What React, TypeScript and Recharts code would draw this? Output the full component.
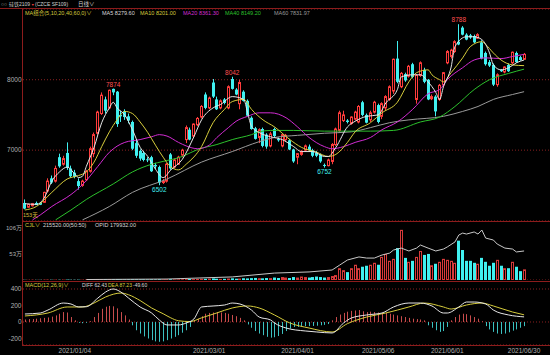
import React from "react";
import {
  ComposedChart,
  Bar,
  Line,
  XAxis,
  YAxis,
  CartesianGrid,
  ReferenceDot,
} from "recharts";

const RED = "#ff3c3c";
const CYAN = "#40f0f0";
const FRAME = "#8c1c1c";
const GRID = "#8a2020";
const TXT = "#b0b0b0";
const HFONT = '"Liberation Sans", "Noto Sans CJK SC", sans-serif';

// daily bars, 2020/12/15 .. 2021/06/30
const opens = [
  6250, 6190, 6210, 6250, 6250, 6260, 6420, 6600, 6560, 6900, 6800, 6960, 6740, 6680, 6560, 6500,
  6580, 6700, 6950, 7240, 7520, 7720, 7600, 7870, 7830, 7500, 7550, 7480, 7400, 7100, 6990, 6960,
  6870, 6900, 6790, 6760, 6540, 6560, 6940, 6760, 6800, 6930, 7150, 7290, 7200, 7360, 7470, 7790,
  7600, 7960, 7720, 7600, 7720, 7600, 8010, 7860, 7660, 7830, 7700, 7460, 7310, 7180, 7300, 7220,
  7060, 7300, 7160, 7060, 7150, 7140, 7010, 6900, 6940, 7000, 7050, 7000, 6960, 6930, 6790, 6780,
  6840, 7080, 7280, 7420, 7420, 7380, 7440, 7400, 7680, 7500, 7430, 7540, 7640, 7480, 7600, 7720,
  7840, 8300, 7900, 8080, 8050, 8220, 7720, 8060, 8140, 8000, 7730, 7760, 7720, 7930, 8240, 8330,
  8400, 8540, 8740, 8640, 8630, 8620, 8590, 8530, 8380, 8250, 8210, 7930, 8140, 8110, 8210, 8240,
  8380, 8320, 8290,
];
const highs = [
  6300, 6240, 6250, 6270, 6260, 6410, 6600, 6640, 6780, 6950, 6920, 7110, 6780, 6720, 6600, 6580,
  6720, 7050, 7250, 7560, 7820, 7760, 7860, 7874, 7840, 7560, 7580, 7520, 7420, 7150, 7010, 6990,
  6900, 6920, 6820, 6780, 6590, 6820, 6960, 6880, 6920, 7020, 7350, 7320, 7380, 7470, 7640, 7820,
  7760, 8010, 7760, 7720, 7740, 7920, 8042, 7880, 8000, 7850, 7720, 7480, 7330, 7310, 7320, 7240,
  7260, 7320, 7180, 7240, 7230, 7160, 7020, 6960, 7000, 7080, 7080, 7020, 6990, 6950, 6810, 6880,
  7100, 7320, 7560, 7560, 7440, 7480, 7560, 7640, 7700, 7520, 7560, 7700, 7660, 7680, 7780, 7920,
  8300, 8550, 8110, 8100, 8210, 8240, 8080, 8260, 8170, 8010, 7790, 7780, 7940, 8110, 8420, 8440,
  8560, 8788, 8760, 8660, 8650, 8640, 8660, 8560, 8400, 8280, 8230, 8090, 8150, 8190, 8230, 8400,
  8400, 8340, 8380,
];
const lows = [
  6160, 6180, 6200, 6220, 6220, 6250, 6400, 6520, 6540, 6750, 6780, 6720, 6610, 6600, 6440, 6480,
  6560, 6680, 6900, 7220, 7500, 7520, 7580, 7780, 7330, 7400, 7430, 7380, 7000, 6890, 6850, 6840,
  6830, 6690, 6730, 6502, 6520, 6540, 6720, 6740, 6790, 6900, 7100, 7140, 7180, 7340, 7450, 7580,
  7580, 7740, 7570, 7580, 7650, 7580, 7860, 7780, 7580, 7690, 7480, 7290, 7150, 7100, 7040, 7020,
  7040, 7180, 7120, 7040, 7120, 7000, 6820, 6800, 6920, 6980, 6980, 6900, 6900, 6820, 6752, 6770,
  6800, 7060, 7260, 7400, 7380, 7360, 7420, 7380, 7480, 7380, 7400, 7520, 7380, 7440, 7560, 7700,
  7800, 7950, 7880, 7970, 8030, 8020, 7660, 8040, 7950, 7710, 7710, 7480, 7700, 7900, 8220, 8300,
  8380, 8490, 8630, 8560, 8580, 8520, 8580, 8290, 8200, 8180, 7910, 7900, 8110, 8090, 8110, 8220,
  8240, 8270, 8280,
];
const closes = [
  6170, 6230, 6240, 6220, 6225, 6400, 6560, 6540, 6740, 6770, 6880, 6750, 6630, 6620, 6490, 6560,
  6700, 7020, 7220, 7540, 7780, 7560, 7850, 7820, 7370, 7480, 7470, 7420, 7020, 6920, 6880, 6860,
  6860, 6700, 6770, 6540, 6560, 6800, 6740, 6860, 6900, 7000, 7320, 7150, 7370, 7450, 7620, 7600,
  7740, 7760, 7580, 7700, 7670, 7900, 7870, 7790, 7960, 7700, 7490, 7300, 7160, 7290, 7060, 7050,
  7230, 7200, 7140, 7220, 7210, 7010, 6840, 6950, 6980, 7060, 7000, 6920, 6920, 6840, 6780, 6860,
  7080, 7300, 7530, 7500, 7400, 7470, 7540, 7620, 7500, 7390, 7530, 7680, 7400, 7660, 7760, 7900,
  8290, 7970, 8090, 7990, 8190, 8040, 8060, 8240, 7970, 7720, 7760, 7550, 7920, 8100, 8400, 8420,
  8540, 8500, 8640, 8570, 8600, 8530, 8640, 8300, 8220, 8200, 7930, 8070, 8120, 8180, 8120, 8390,
  8250, 8280, 8360,
];

// volume, 万手
const volumes = [
  0.4, 0.3, 0.4, 0.3, 0.4, 0.5, 0.6, 0.5, 0.6, 0.5, 0.6, 0.8, 0.6, 0.5, 0.6, 0.5,
  0.8, 1, 1.2, 1.4, 1.5, 1.2, 1.4, 1.3, 1.6, 1.2, 1, 1.1, 1.4, 1.2, 1, 1.1, 0.9, 1.2, 1, 1.3, 1, 1.2,
  1.4, 1, 1.1, 1.2, 1.6,
  2, 1.8, 2.2, 2.6, 2.4, 2.8, 3.2, 2.6, 2.2, 2.4, 3, 3.4, 2.6, 3, 3.6, 3.2, 3.8, 4.2, 3.6, 3.4, 4, 3.8,
  5, 4, 6, 5, 4, 6, 5, 7, 6, 5, 6, 7, 6, 5, 6, 8,
  10, 24, 20, 16, 24, 31, 24, 27, 29, 31, 35, 31, 47, 53, 39, 43, 65, 102,
  45, 37, 39, 47, 59, 51, 53, 30, 33, 37, 43, 41, 39, 35,
  80,
  61, 39, 39, 35, 33, 45, 37, 29, 35, 41, 29, 24, 24, 37, 27, 18, 21.6,
];

// open interest, 万手 (sparse readings)
const oiPts = [
  [16, 0.3], [37, 0.6], [54, 1.9], [65, 4.3], [74, 5], [80, 6.2], [82, 9.3], [84, 12.4], [87, 14.3],
  [89, 13.6], [91, 13.6], [93, 15.5], [95, 16.7], [96, 18.6], [98, 19.8], [100, 18], [102, 19.8],
  [103, 21.7], [105, 19.8], [107, 18], [109, 19.2], [110, 20.5], [112, 23.6], [113, 27.9], [114, 29.1],
  [115, 28.5], [117, 29.8], [118, 28.5], [119, 31], [120, 26], [122, 24.8], [123, 22.3], [125, 19.8],
  [127, 19.2], [128, 17.4], [130, 18],
];

const macdHist = [
  30, 35, 35, 40, 45, 50, 55, 65, 80, 100, 120, 115, 60, 20,
  -10, -15, -10, 10, 60, 110, 160, 185, 195, 190, 165, 120, 80, 30,
  -40, -100, -140, -175, -200, -220, -235, -240, -235, -220, -200, -180, -160, -130, -100, -60,
  20, 40, 70, 100, 110, 115, 120, 115, 110, 100, 85, 70, 50, 20,
  -30, -70, -110, -140, -160, -180, -190, -185, -170, -145, -110, -80, -60, -60, -55, -50, -50, -48,
  -45, -40, -35, -25,
  20, 60, 90, 110, 125, 135, 140, 145, 130, 120, 125, 120, 115, 110, 110, 100, 90, 80, 70, 60, 50, 40,
  35, 30, 20,
  -40, -70, -100, -120, -110, -60,
  20, 60, 90, 100, 95, 80, 60, 40, 10,
  -50, -90, -120, -140, -145, -140, -125, -105, -90, -70, -50,
];

const difPts = [
  [0, 97], [4, 109], [6, 145], [10, 230], [12, 218], [14, 182], [16, 185], [19, 290], [21, 363],
  [23, 400], [25, 363], [27, 290], [30, 182], [33, 109], [35, 24], [37, -36], [40, -36], [42, -12],
  [44, 36], [46, 182], [49, 194], [52, 206], [54, 230], [56, 218], [59, 145], [61, 60], [64, 24],
  [65, -12], [68, -73], [73, -109], [76, -121], [80, -133], [83, -12], [85, 48], [89, 85], [93, 109],
  [96, 182], [100, 230], [103, 230], [106, 194], [109, 109], [110, 109], [113, 182], [115, 242],
  [117, 242], [120, 218], [122, 145], [126, 85], [130, 62],
];
const deaPts = [
  [0, 73], [6, 109], [11, 182], [15, 182], [18, 230], [21, 303], [25, 351], [27, 330], [30, 260],
  [33, 170], [36, 100], [38, 50], [40, 15], [43, 5], [46, 50], [50, 110], [54, 170], [58, 194],
  [61, 170], [65, 85], [69, -12], [74, -73], [80, -121], [84, -20], [89, 60], [94, 109], [100, 182],
  [104, 230], [109, 182], [111, 157], [115, 206], [119, 230], [122, 194], [127, 121], [130, 87],
];

// moving averages (sparse)
const ma5Pts = [
  [0, 6240], [3, 6230], [5, 6320], [7, 6560], [9, 6690], [11, 6760], [13, 6660], [14, 6610],
  [15, 6630], [16, 6770], [18, 7040], [20, 7390], [22, 7600], [23, 7680], [24, 7600], [26, 7500],
  [28, 7290], [30, 7040], [32, 6910], [34, 6730], [36, 6610], [38, 6720], [41, 6870], [44, 7190],
  [46, 7430], [49, 7600], [51, 7650], [54, 7760], [57, 7720], [58, 7530], [59, 7340], [61, 7250],
  [64, 7190], [67, 7150], [70, 7050], [72, 6980], [75, 6980], [78, 6910], [79, 6910], [81, 7040],
  [84, 7330], [86, 7410], [89, 7480], [92, 7500], [94, 7670], [97, 7860], [98, 8040], [101, 8070],
  [103, 8070], [105, 7970], [107, 7820], [108, 7720], [109, 7900], [111, 8180], [112, 8470],
  [115, 8610], [117, 8610], [119, 8570], [121, 8380], [122, 8210], [124, 8140], [126, 8170],
  [128, 8240], [130, 8280],
];
const ma10Pts = [
  [0, 6150], [3, 6200], [7, 6400], [11, 6590], [14, 6640], [16, 6690], [18, 6830], [20, 7050],
  [22, 7260], [24, 7430], [26, 7550], [28, 7520], [30, 7400], [32, 7250], [34, 7070], [36, 6900],
  [38, 6760], [40, 6720], [42, 6800], [46, 7050], [49, 7390], [52, 7580], [54, 7690], [57, 7720],
  [59, 7580], [62, 7430], [65, 7330], [69, 7150], [72, 7040], [76, 6970], [79, 6910], [81, 6940],
  [84, 7110], [86, 7260], [90, 7390], [93, 7530], [97, 7680], [100, 7970], [102, 8100], [105, 8140],
  [106, 8070], [108, 8000], [109, 7970], [111, 8100], [114, 8310], [116, 8470], [119, 8540],
  [120, 8500], [122, 8380], [124, 8280], [127, 8210], [130, 8200],
];
const ma20Pts = [
  [2, 6010], [4, 6080], [7, 6200], [12, 6370], [15, 6510], [19, 6770], [22, 6970], [26, 7110],
  [30, 7150], [33, 7190], [35, 7220], [37, 7200], [40, 7110], [42, 7060], [45, 7020], [48, 7070],
  [50, 7180], [53, 7320], [55, 7410], [58, 7480], [61, 7530], [64, 7530], [68, 7460], [71, 7330],
  [74, 7180], [78, 7050], [80, 7020], [83, 7050], [86, 7110], [90, 7180], [93, 7290], [97, 7400],
  [101, 7580], [105, 7800], [108, 7860], [110, 8000], [114, 8170], [117, 8280], [120, 8310],
  [124, 8300], [127, 8330], [130, 8360],
];
const ma40Pts = [
  [8, 6010], [12, 6150], [16, 6300], [23, 6520], [28, 6690], [33, 6800], [36, 6840], [41, 6910],
  [45, 7010], [50, 7080], [54, 7150], [59, 7220], [61, 7260], [64, 7280], [70, 7280], [78, 7270],
  [84, 7270], [90, 7270], [96, 7280], [103, 7400], [108, 7470], [112, 7620], [117, 7860],
  [121, 8000], [126, 8090], [130, 8150],
];
const ma60Pts = [
  [15, 6010], [22, 6200], [28, 6400], [37, 6590], [46, 6830], [54, 6980], [61, 7120], [65, 7180],
  [71, 7210], [78, 7240], [85, 7260], [90, 7320], [95, 7390], [100, 7430], [109, 7480], [114, 7550],
  [118, 7620], [122, 7720], [127, 7790], [130, 7830],
];

const dateLabels: Record<number, string> = {
  13: "2021/01/04",
  48: "2021/03/01",
  71: "2021/04/01",
  92: "2021/05/06",
  110: "2021/06/01",
  130: "2021/06/30",
};

const extremes = [
  { i: 23, p: 7874, hi: true },
  { i: 35, p: 6502, hi: false },
  { i: 54, p: 8042, hi: true },
  { i: 78, p: 6752, hi: false },
  { i: 113, p: 8788, hi: true },
];

const toMap = (pts: number[][]) => {
  const m: Record<number, number> = {};
  pts.forEach(([i, v]) => (m[i] = v));
  return m;
};
const maps = {
  ma5: toMap(ma5Pts),
  ma10: toMap(ma10Pts),
  ma20: toMap(ma20Pts),
  ma40: toMap(ma40Pts),
  ma60: toMap(ma60Pts),
  oi: toMap(oiPts),
  dif: toMap(difPts),
  dea: toMap(deaPts),
};

const rows = closes.map((close, i) => ({
  i,
  open: opens[i],
  high: highs[i],
  low: lows[i],
  close,
  range: [lows[i], highs[i]],
  up: close >= opens[i],
  vol: volumes[i],
  hist: macdHist[i],
  ma5: maps.ma5[i] ?? null,
  ma10: maps.ma10[i] ?? null,
  ma20: maps.ma20[i] ?? null,
  ma40: maps.ma40[i] ?? null,
  ma60: maps.ma60[i] ?? null,
  oi: maps.oi[i] ?? null,
  dif: maps.dif[i] ?? null,
  dea: maps.dea[i] ?? null,
}));

// candle drawn inside the low-high range bar
const Candle = (props: any) => {
  const { x, y, width, height, payload } = props;
  if (x == null || !payload) return null;
  const top = Math.min(y, y + height);
  const h = Math.abs(height);
  const span = payload.high - payload.low || 1;
  const py = (p: number) => top + ((payload.high - p) / span) * h;
  const left = Math.round(x + width / 2 - 1.5);
  const color = payload.up ? RED : CYAN;
  const bTop = py(Math.max(payload.open, payload.close));
  const bBot = py(Math.min(payload.open, payload.close));
  return (
    <g>
      <line x1={left + 1.5} x2={left + 1.5} y1={top} y2={top + h} stroke={color} strokeWidth={1} />
      {payload.up ? (
        <rect x={left + 0.5} y={bTop} width={2} height={Math.max(bBot - bTop, 0.5)} fill="#000" stroke={color} strokeWidth={1} />
      ) : (
        <rect x={left} y={bTop} width={3} height={Math.max(bBot - bTop, 1)} fill={color} />
      )}
    </g>
  );
};

const VolBar = (props: any) => {
  const { x, y, width, height, payload } = props;
  if (x == null || !payload) return null;
  const top = Math.min(y, y + height);
  const h = Math.abs(height);
  const left = Math.round(x + width / 2 - 1.5);
  return payload.up ? (
    <rect x={left + 0.5} y={top + 0.5} width={2} height={Math.max(h - 0.5, 0.5)} fill="none" stroke="#d83a3a" strokeWidth={1} />
  ) : (
    <rect x={left} y={top} width={3} height={Math.max(h, 0.5)} fill={CYAN} />
  );
};

const HistBar = (props: any) => {
  const { x, y, width, height, payload } = props;
  if (x == null || !payload) return null;
  const cx = Math.round(x + width / 2) + 0.5;
  const top = Math.min(y, y + height);
  const bot = Math.max(y, y + height);
  return <line x1={cx} x2={cx} y1={top} y2={bot} stroke={payload.hist >= 0 ? "#c84c4c" : "#3cc0c0"} strokeWidth={1} />;
};

const DateTick = (props: any) => {
  const { x, y, payload } = props;
  const label = dateLabels[payload.value];
  if (!label) return null;
  return (
    <text x={x} y={y + 5} textAnchor="middle" dominantBaseline="central" fill={TXT} fontSize={6.5} fontFamily={HFONT}>
      {label}
    </text>
  );
};

const Txt = ({ x, y, color, size = 5.5, children }: any) => (
  <div
    style={{
      position: "absolute",
      left: x,
      top: y,
      color,
      fontSize: size,
      lineHeight: "7px",
      whiteSpace: "nowrap",
      fontFamily: HFONT,
    }}
  >
    {children}
  </div>
);

const HLine = ({ x, y, w }: any) => (
  <div style={{ position: "absolute", left: x, top: y, width: w, height: 1, background: FRAME }} />
);

const yTick = { fill: TXT, fontSize: 6.5, fontFamily: HFONT };

export default function App() {
  return (
    <div style={{ position: "absolute", left: 0, top: 0, width: 550, height: 355, background: "#000", overflow: "hidden" }}>
      {/* price panel */}
      <div style={{ position: "absolute", left: 0, top: 0 }}>
        <ComposedChart width={550} height={221} data={rows} margin={{ top: 9, right: 0, bottom: 0, left: 0 }}>
          <CartesianGrid vertical={false} stroke={GRID} strokeDasharray="1 2" />
          <XAxis dataKey="i" type="category" hide padding={{ left: 0, right: 24 }} />
          <YAxis
            domain={[5994, 9004]}
            allowDataOverflow
            ticks={[7000, 8000]}
            width={23}
            axisLine={false}
            tickLine={false}
            tickSize={0}
            tickMargin={1.5}
            tick={yTick}
          />
          <Bar dataKey="range" shape={<Candle />} isAnimationActive={false} />
          <Line dataKey="ma60" stroke="#9a9a9a" dot={false} connectNulls type="monotone" strokeWidth={1} isAnimationActive={false} />
          <Line dataKey="ma40" stroke="#2cc02c" dot={false} connectNulls type="monotone" strokeWidth={1} isAnimationActive={false} />
          <Line dataKey="ma20" stroke="#d22cd2" dot={false} connectNulls type="monotone" strokeWidth={1} isAnimationActive={false} />
          <Line dataKey="ma10" stroke="#d6cc3c" dot={false} connectNulls type="monotone" strokeWidth={1} isAnimationActive={false} />
          <Line dataKey="ma5" stroke="#e6e6e6" dot={false} connectNulls type="monotone" strokeWidth={1} isAnimationActive={false} />
          {extremes.map((e) => (
            <ReferenceDot
              key={e.i}
              x={e.i}
              y={e.p}
              r={0}
              fill="none"
              stroke="none"
              label={{
                value: String(e.p),
                position: e.hi ? "top" : "bottom",
                offset: 2,
                fill: e.hi ? "#ff5050" : CYAN,
                fontSize: 6.5,
                fontFamily: HFONT,
              }}
            />
          ))}
        </ComposedChart>
      </div>

      {/* volume panel */}
      <div style={{ position: "absolute", left: 0, top: 221 }}>
        <ComposedChart width={550} height={59} data={rows} margin={{ top: 0, right: 0, bottom: 0, left: 0 }}>
          <CartesianGrid vertical={false} stroke={GRID} strokeDasharray="1 2" />
          <XAxis dataKey="i" type="category" hide padding={{ left: 0, right: 24 }} />
          <YAxis
            yAxisId="v"
            domain={[0, 120]}
            allowDataOverflow
            ticks={[53, 106]}
            tickFormatter={(v: number) => `${v}万`}
            width={23}
            axisLine={false}
            tickLine={false}
            tickSize={0}
            tickMargin={1}
            tick={{ ...yTick, fontSize: 6 }}
          />
          <YAxis yAxisId="oi" orientation="right" hide domain={[0, 36.6]} allowDataOverflow />
          <Bar yAxisId="v" dataKey="vol" shape={<VolBar />} isAnimationActive={false} />
          <Line yAxisId="oi" dataKey="oi" stroke="#c8c8c8" dot={false} connectNulls strokeWidth={1} isAnimationActive={false} />
        </ComposedChart>
      </div>

      {/* MACD panel */}
      <div style={{ position: "absolute", left: 0, top: 281 }}>
        <ComposedChart width={550} height={74} data={rows} margin={{ top: 0, right: 0, bottom: 0, left: 0 }}>
          <CartesianGrid vertical={false} stroke={GRID} strokeDasharray="1 2" />
          <XAxis
            dataKey="i"
            type="category"
            padding={{ left: 0, right: 24 }}
            interval={0}
            height={10}
            axisLine={false}
            tickLine={false}
            tickSize={0}
            tickMargin={0}
            tick={<DateTick />}
          />
          <YAxis
            domain={[-279, 497]}
            allowDataOverflow
            ticks={[-200, 0, 200, 400]}
            width={23}
            axisLine={false}
            tickLine={false}
            tickSize={0}
            tickMargin={1.5}
            tick={yTick}
          />
          <Bar dataKey="hist" shape={<HistBar />} isAnimationActive={false} />
          <Line dataKey="dea" stroke="#d6cc3c" dot={false} connectNulls type="monotone" strokeWidth={1} isAnimationActive={false} />
          <Line dataKey="dif" stroke="#e6e6e6" dot={false} connectNulls type="monotone" strokeWidth={1} isAnimationActive={false} />
        </ComposedChart>
      </div>

      {/* frame */}
      <HLine x={0} y={8} w={550} />
      <HLine x={22} y={221} w={528} />
      <HLine x={22} y={281} w={528} />
      <HLine x={22} y={345} w={528} />
      <div style={{ position: "absolute", left: 22, top: 8, width: 1, height: 338, background: FRAME }} />

      {/* headers */}
      <Txt x={1} y={1} color="#d0d0d0" size={5}>○○</Txt>
      <Txt x={9} y={1} color="#d0d0d0" size={5}>硅铁2109</Txt>
      <Txt x={31} y={1.5} color="#ff4040" size={3.5}>▼</Txt>
      <Txt x={35} y={1} color="#d0d0d0" size={5}>(CZCE SF109)</Txt>
      <Txt x={78} y={1} color="#d0d0d0">日线∨</Txt>
      <Txt x={25} y={10} color="#d6cc3c">MA组合(5,10,20,40,60,0)∨</Txt>
      <Txt x={102} y={10} color="#d8d8d8">MA5 8279.60</Txt>
      <Txt x={140} y={10} color="#d6cc3c">MA10 8201.00</Txt>
      <Txt x={183} y={10} color="#d22cd2">MA20 8361.30</Txt>
      <Txt x={225} y={10} color="#2cc02c">MA40 8149.20</Txt>
      <Txt x={274} y={10} color="#9a9a9a">MA60 7831.97</Txt>
      <Txt x={23} y={212} color="#d6b83c">153天</Txt>

      <Txt x={25} y={222} color="#d6cc3c">CJL∨</Txt>
      <Txt x={43} y={222} color="#d8d8d8">215520.00(50:50)</Txt>
      <Txt x={95} y={222} color="#d8d8d8">OPID 179932.00</Txt>

      <Txt x={25} y={282} color="#d6cc3c">MACD(12,26,9)∨</Txt>
      <Txt x={82} y={282} color="#d8d8d8" size={5}>DIFF 62.43</Txt>
      <Txt x={108} y={282} color="#d6cc3c" size={5}>DEA 87.23</Txt>
      <Txt x={133} y={282} color="#d8d8d8" size={5}>-49.60</Txt>
    </div>
  );
}
